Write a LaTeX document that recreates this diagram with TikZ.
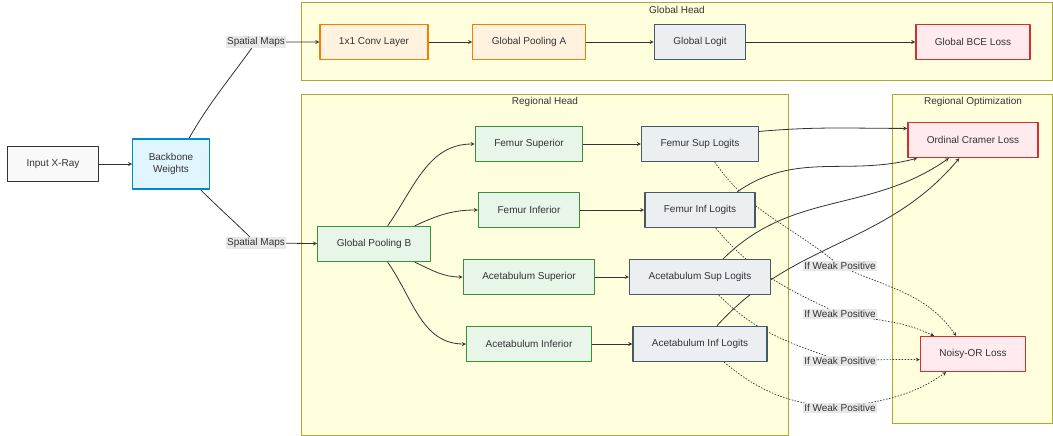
\documentclass[tikz,border=0pt]{standalone}
\usepackage{fontspec}
\setmainfont{Liberation Sans}
\pgfdeclarelayer{back}
\pgfdeclarelayer{edges}
\pgfsetlayers{back,edges,main}
\definecolor{inFill}{HTML}{F9F9F9}\definecolor{inLine}{HTML}{333333}
\definecolor{bbFill}{HTML}{E1F5FE}\definecolor{bbLine}{HTML}{0288D1}
\definecolor{convFill}{HTML}{FFF3E0}\definecolor{convLine}{HTML}{F57C00}
\definecolor{headFill}{HTML}{E8F5E9}\definecolor{headLine}{HTML}{388E3C}
\definecolor{logFill}{HTML}{ECEFF1}\definecolor{logLine}{HTML}{455A64}
\definecolor{lossFill}{HTML}{FFEBEE}\definecolor{lossLine}{HTML}{D32F2F}
\definecolor{clFill}{HTML}{FFFFDE}\definecolor{clLine}{HTML}{AAAA33}
\definecolor{labFill}{HTML}{E8E8E8}\definecolor{edge}{HTML}{333333}

\begin{document}
\begin{tikzpicture}[x=1pt,y=1pt,line join=round,>=stealth,font=\fontsize{10}{12}\selectfont,text=edge,
box/.style={draw,line width=1.3pt,inner xsep=19pt,minimum height=35pt},
inbox/.style={box,fill=inFill,draw=inLine},
bbbox/.style={box,fill=bbFill,draw=bbLine,align=center,minimum height=50pt,inner xsep=16pt},
convbox/.style={box,fill=convFill,draw=convLine},
headbox/.style={box,fill=headFill,draw=headLine},
logbox/.style={box,fill=logFill,draw=logLine},
lossbox/.style={box,fill=lossFill,draw=lossLine},
lab/.style={fill=labFill,inner sep=1.5pt},
link/.style={draw=edge,line width=0.8pt},
weak/.style={link,line width=0.7pt,dash pattern=on 1.5pt off 1.5pt},
cluster/.style={fill=clFill,draw=clLine,line width=0.8pt}]

\useasboundingbox (0,0) rectangle (1053,-436);

\begin{pgfonlayer}{back}
\draw[cluster] (301,-2) rectangle (1052,-80);
\draw[cluster] (301,-94) rectangle (788,-435);
\draw[cluster] (892,-94) rectangle (1052,-423);
\node (gh) at (677,-10) {Global Head};
\node (rh) at (545,-102) {Regional Head};
\node (ro) at (973,-102) {Regional Optimization};
\end{pgfonlayer}

\node[inbox] (xray) at (53,-164) {Input X-Ray};
\node[bbbox] (bb) at (171,-164) {Backbone\\Weights};
\node[lab] (sma) at (256,-42) {Spatial Maps};
\node[lab] (smb) at (256,-243) {Spatial Maps};

\node[convbox] (conv) at (374,-42) {1x1 Conv Layer};
\node[convbox] (poola) at (529,-42) {Global Pooling A};
\node[logbox] (glogit) at (700,-42) {Global Logit};
\node[lossbox] (bce) at (973,-42) {Global BCE Loss};

\node[headbox] (poolb) at (374,-244) {Global Pooling B};
\node[headbox] (fsup) at (529,-144) {Femur Superior};
\node[headbox] (finf) at (529,-210) {Femur Inferior};
\node[headbox] (asup) at (529,-277) {Acetabulum Superior};
\node[headbox] (ainf) at (529,-344) {Acetabulum Inferior};
\node[logbox] (fsl) at (700,-144) {Femur Sup Logits};
\node[logbox] (fil) at (700,-210) {Femur Inf Logits};
\node[logbox] (asl) at (700,-277) {Acetabulum Sup Logits};
\node[logbox] (ail) at (700,-344) {Acetabulum Inf Logits};

\node[lossbox] (cramer) at (973,-140) {Ordinal Cramer Loss};
\node[lossbox] (noisy) at (973,-354) {Noisy-OR Loss};
\node[lab] (w1) at (840,-266) {If Weak Positive};
\node[lab] (w2) at (840,-314) {If Weak Positive};
\node[lab] (w3) at (840,-361) {If Weak Positive};
\node[lab] (w4) at (840,-408) {If Weak Positive};

\begin{pgfonlayer}{edges}
\draw[link,->] (xray) -- (bb);
\draw[link,->] (bb.55) to[out=60,in=-125] (sma.center) -- (conv);
\draw[link,->] (bb.-41) to[out=-45,in=135] (smb.center) -- (poolb);
\draw[link,->] (conv) -- (poola);
\draw[link,->] (poola) -- (glogit);
\draw[link,->] (glogit) -- (bce);

\draw[link,->] (poolb.53) to[out=55,in=180] (fsup.west);
\draw[link,->] (poolb.24) to[out=25,in=180] (finf.west);
\draw[link,->] (poolb.-24) to[out=-25,in=180] (asup.west);
\draw[link,->] (poolb.-53) to[out=-55,in=180] (ainf.west);
\draw[link,->] (fsup) -- (fsl);
\draw[link,->] (finf) -- (fil);
\draw[link,->] (asup) -- (asl);
\draw[link,->] (ainf) -- (ail);

\draw[link,->] (fsl.12) to[out=5,in=180] (cramer.170);
\draw[link,->] (fil.26) to[out=35,in=195] (cramer.-162);
\draw[link,->] (asl.38) to[out=45,in=215] (cramer.-143);
\draw[link,->] (ail.47) to[out=48,in=230] (cramer.-127);

\draw[weak,->] (fsl.-51) to[out=-55,in=140] (w1.center) to[out=-25,in=125] (noisy.133);
\draw[weak,->] (fil.-49) to[out=-50,in=155] (w2.center) to[out=-10,in=155] (noisy.155);
\draw[weak,->] (asl.-44) to[out=-45,in=160] (w3.center) to[out=3,in=180] (noisy.186);
\draw[weak,->] (ail.-37) to[out=-40,in=175] (w4.center) to[out=10,in=-145] (noisy.214);
\end{pgfonlayer}

\end{tikzpicture}
\end{document}
